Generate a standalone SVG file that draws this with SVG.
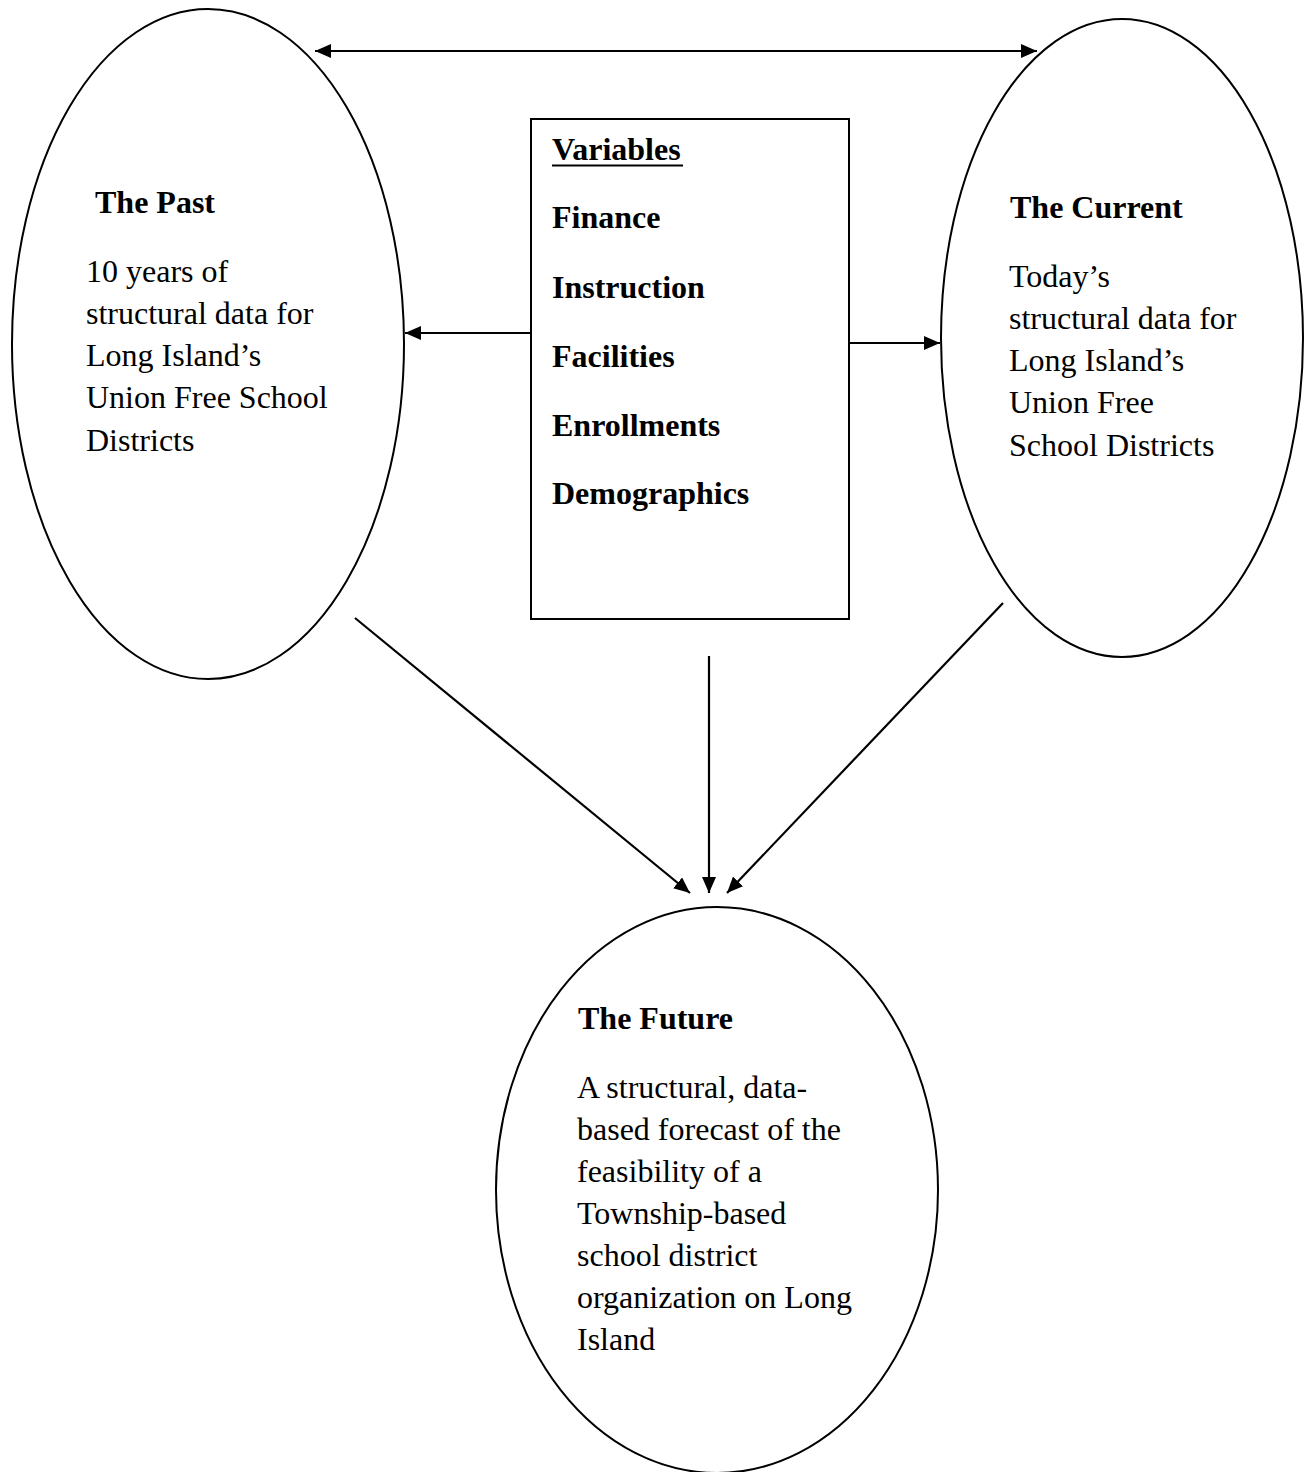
<svg xmlns="http://www.w3.org/2000/svg" width="1309" height="1472" viewBox="0 0 1309 1472">
<style>
.shape{fill:#fff;stroke:#000;stroke-width:2}
.conn{fill:none;stroke:#000;stroke-width:2.2}
.t{font-family:"Liberation Serif","Times New Roman",serif;font-size:32px;fill:#000}
.b{font-weight:bold}
</style>
<defs>
<marker id="ah" viewBox="0 0 16 14" refX="16" refY="7" markerWidth="16" markerHeight="14" markerUnits="userSpaceOnUse" orient="auto-start-reverse">
<path d="M0,0 L16,7 L0,14 Z" fill="#000"/>
</marker>
</defs>
<rect width="1309" height="1472" fill="#fff"/>
<g id="past">
<ellipse class="shape" cx="208" cy="344" rx="196" ry="335"/>
<text class="t b" x="95" y="213">The Past</text>
<text class="t" x="86" y="282">10 years of</text>
<text class="t" x="86" y="324">structural data for</text>
<text class="t" x="86" y="366">Long Island’s</text>
<text class="t" x="86" y="408">Union Free School</text>
<text class="t" x="86" y="451">Districts</text>
</g>
<g id="current">
<ellipse class="shape" cx="1122" cy="338" rx="181" ry="319"/>
<text class="t b" x="1010" y="218">The Current</text>
<text class="t" x="1009" y="287">Today’s</text>
<text class="t" x="1009" y="329">structural data for</text>
<text class="t" x="1009" y="371">Long Island’s</text>
<text class="t" x="1009" y="413">Union Free</text>
<text class="t" x="1009" y="456">School Districts</text>
</g>
<g id="variables">
<rect class="shape" x="531" y="119" width="318" height="500"/>
<text class="t b" x="552" y="160">Variables</text>
<line x1="552" y1="165.5" x2="683" y2="165.5" stroke="#000" stroke-width="2.2"/>
<text class="t b" x="552" y="228">Finance</text>
<text class="t b" x="552" y="298">Instruction</text>
<text class="t b" x="552" y="367">Facilities</text>
<text class="t b" x="552" y="436">Enrollments</text>
<text class="t b" x="552" y="504">Demographics</text>
</g>
<g id="future">
<ellipse class="shape" cx="717" cy="1190" rx="221" ry="283"/>
<text class="t b" x="578" y="1029">The Future</text>
<text class="t" x="577" y="1098">A structural, data-</text>
<text class="t" x="577" y="1140">based forecast of the</text>
<text class="t" x="577" y="1182">feasibility of a</text>
<text class="t" x="577" y="1224">Township-based</text>
<text class="t" x="577" y="1266">school district</text>
<text class="t" x="577" y="1308">organization on Long</text>
<text class="t" x="577" y="1350">Island</text>
</g>
<g id="connectors">
<line class="conn" x1="315" y1="51" x2="1037" y2="51" marker-start="url(#ah)" marker-end="url(#ah)"/>
<line class="conn" x1="531" y1="333" x2="405" y2="333" marker-end="url(#ah)"/>
<line class="conn" x1="849" y1="343" x2="940" y2="343" marker-end="url(#ah)"/>
<line class="conn" x1="355" y1="618" x2="690" y2="893" marker-end="url(#ah)"/>
<line class="conn" x1="709" y1="656" x2="709" y2="893" marker-end="url(#ah)"/>
<line class="conn" x1="1003" y1="603" x2="727" y2="893" marker-end="url(#ah)"/>
</g>
</svg>
